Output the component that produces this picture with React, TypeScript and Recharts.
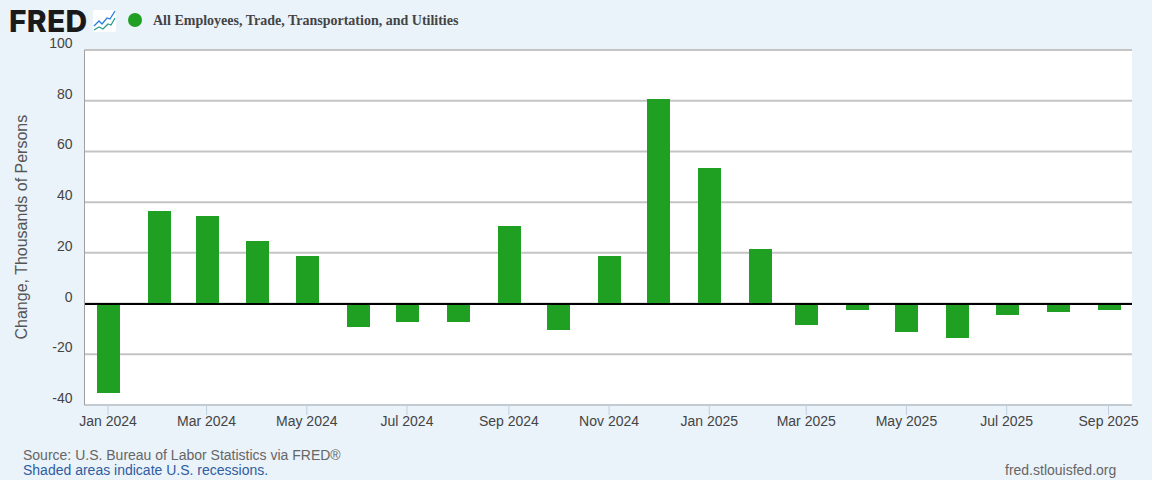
import { BarChart, Bar, CartesianGrid, ReferenceLine, XAxis, YAxis } from "recharts";

const months = [
  "2024-01", "2024-02", "2024-03", "2024-04", "2024-05", "2024-06", "2024-07",
  "2024-08", "2024-09", "2024-10", "2024-11", "2024-12", "2025-01", "2025-02",
  "2025-03", "2025-04", "2025-05", "2025-06", "2025-07", "2025-08", "2025-09",
];
const changes = [
  -35.3, 36.5, 34.5, 24.7, 18.8, -9.2, -7.3, -7.3, 30.6, -10.4, 18.8, 80.7,
  53.5, 21.5, -8.4, -2.5, -11.2, -13.6, -4.5, -3.4, -2.5,
];
const tickMonths = [
  "2024-01", "2024-03", "2024-05", "2024-07", "2024-09", "2024-11",
  "2025-01", "2025-03", "2025-05", "2025-07", "2025-09",
];
const yTicks = [-40, -20, 0, 20, 40, 60, 80, 100];
const monthNames = ["Jan", "Feb", "Mar", "Apr", "May", "Jun", "Jul", "Aug", "Sep", "Oct", "Nov", "Dec"];

const DAY = 86400000;
const toTime = (m: string) => Date.parse(m + "-01T00:00:00Z");
const data = months.map((m, i) => ({ t: toTime(m), change: changes[i] }));

const SANS = "'Liberation Sans', Arial, sans-serif";
const GREEN = "#1fa022";

function formatMonth(v: number) {
  const d = new Date(v);
  return monthNames[d.getUTCMonth()] + " " + d.getUTCFullYear();
}

function YTick({ x, y, payload }: any) {
  return (
    <text x={x} y={y - 2} textAnchor="end" fontSize={14} fontFamily={SANS} fill="#444">
      {payload.value}
    </text>
  );
}

export default function App() {
  return (
    <div style={{ position: "absolute", left: 0, top: 0, width: 1152, height: 480, background: "#eaf2fa", overflow: "hidden" }}>
      <BarChart width={1152} height={480} data={data} margin={{ top: 50, right: 20, bottom: 0, left: 0 }}>
        <CartesianGrid vertical={false} stroke="#c4c4c4" strokeWidth={2} fill="#ffffff" />
        <XAxis
          dataKey="t"
          type="number"
          scale="time"
          height={75}
          domain={[toTime("2024-01") - 14.3 * DAY, toTime("2025-09") + 14.3 * DAY]}
          ticks={tickMonths.map(toTime)}
          tickFormatter={formatMonth}
          interval={0}
          allowDataOverflow
          stroke="#c0d0e0"
          tickSize={10}
          tickMargin={1}
          tick={{ fill: "#444", fontSize: 14, fontFamily: SANS }}
        />
        <YAxis
          width={84.5}
          domain={[-40, 100]}
          ticks={yTicks}
          interval={0}
          stroke="#a0a0a0"
          tickLine={false}
          tick={YTick}
          tickMargin={6}
          label={{
            value: "Change, Thousands of Persons",
            angle: -90,
            position: "insideLeft",
            offset: 0,
            dx: 21,
            dy: 112,
            style: { fill: "#555", fontSize: 16, fontFamily: SANS },
          }}
        />
        <Bar dataKey="change" fill={GREEN} barSize={23} shapeRendering="crispEdges" isAnimationActive={false} />
        <ReferenceLine y={0} stroke="#000" strokeWidth={2} shapeRendering="crispEdges" />
      </BarChart>

      <div style={{ position: "absolute", left: 9, top: 8, fontFamily: "Inter, sans-serif", fontWeight: 800, fontSize: 30, lineHeight: "26px", color: "#1a1a1a", letterSpacing: 0.3 }}>
        FRED
      </div>
      <svg style={{ position: "absolute", left: 93, top: 10 }} width={23} height={22}>
        <rect width={23} height={22} rx={2} fill="#ffffff" />
        <polyline points="1,16 6,11 9,14 14,8 17,9 22,1" fill="none" stroke="#2a7de1" strokeWidth={1.3} />
        <polyline points="1,20 6,17 10,19 15,14 18,15 22,8" fill="none" stroke="#2a9d8f" strokeWidth={1.3} />
      </svg>
      <svg style={{ position: "absolute", left: 128, top: 13 }} width={14} height={14}>
        <circle cx={7} cy={7} r={7} fill={GREEN} />
      </svg>
      <div style={{ position: "absolute", left: 153, top: 12, fontFamily: "'Liberation Serif', serif", fontWeight: 700, fontSize: 14, lineHeight: "18px", color: "#444", whiteSpace: "nowrap" }}>
        All Employees, Trade, Transportation, and Utilities
      </div>
      <div style={{ position: "absolute", left: 23, top: 447, fontFamily: SANS, fontSize: 14, lineHeight: "16px", color: "#666", whiteSpace: "nowrap" }}>
        Source: U.S. Bureau of Labor Statistics via FRED®
      </div>
      <div style={{ position: "absolute", left: 23, top: 462, fontFamily: SANS, fontSize: 14, lineHeight: "16px", color: "#2f5d9e", whiteSpace: "nowrap" }}>
        Shaded areas indicate U.S. recessions.
      </div>
      <div style={{ position: "absolute", left: 1005, top: 462, fontFamily: SANS, fontSize: 14, lineHeight: "16px", color: "#666", whiteSpace: "nowrap" }}>
        fred.stlouisfed.org
      </div>
    </div>
  );
}
